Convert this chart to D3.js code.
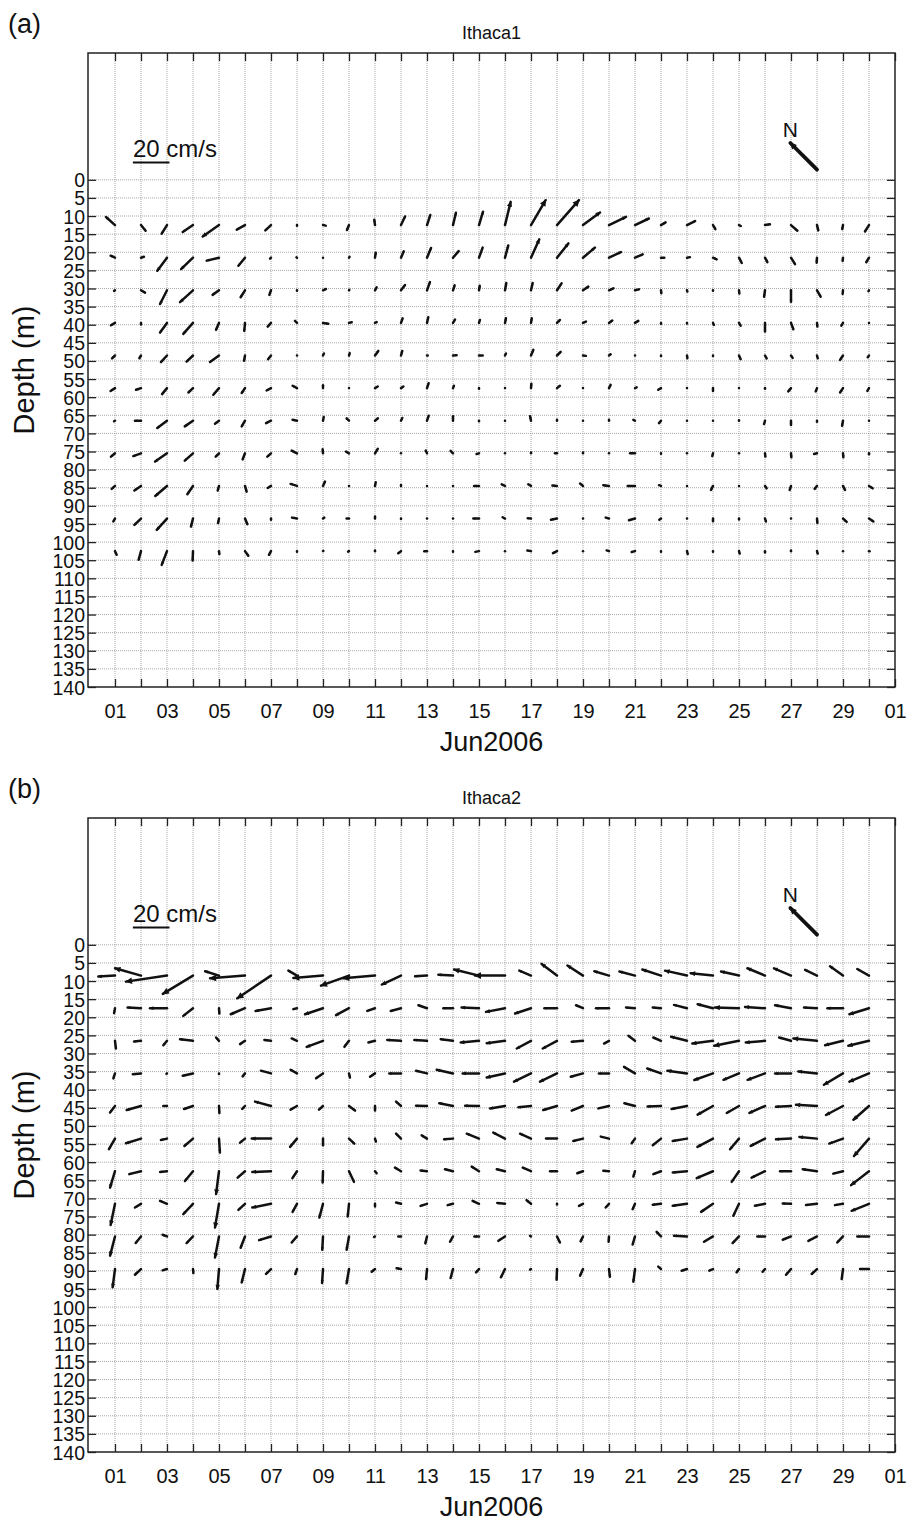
<!DOCTYPE html>
<html>
<head>
<meta charset="utf-8">
<script src="https://cdn.jsdelivr.net/npm/d3@7"></script>
<style>
  body { margin: 0; background: #fff; }
  text { font-family: "Liberation Sans", Arial, Helvetica, sans-serif; fill: #111; }
</style>
</head>
<body>
<svg id="fig" width="907" height="1523"></svg>
<script>
// Daily-mean current vectors (cm/s, rotated frame) at two moorings, June 2006.
const days = d3.range(1, 31);                       // Jun 01 .. Jun 30
const depthTicks = d3.range(0, 141, 5);             // depth axis labels (m)
const depthsA = [12.5, 21.5, 30.5, 39.5, 48.5, 57.5, 66.5, 75.5, 84.5, 93.5, 102.5];
const depthsB = [8.5, 17.5, 26.5, 35.5, 44.5, 53.5, 62.5, 71.5, 80.5, 89.5];
const panelTitles = ["Ithaca1", "Ithaca2"];
const panelLetters = ["(a)", "(b)"];
const scaleSpeed = 20;          // cm/s, reference bar
const northTurn = -45;          // degrees, direction of true north in the plotted frame
const northLength = 20.6;       // cm/s-equivalent length of the north marker

// Ithaca1: east (u) and north (v) components, one row per depth bin
const uA = [
  [-4.9, 2.5, -2.9, -5.6, -8.9, -4.5, -3.1, 0, 1.5, -1.1, -0.4, 2.2, 1.8, 1.6, 2.2, 3.1, 8, 12, 9.3, 9.3, 7.6, 2.5, 4.4, 1.3, 1, 2.7, 3.5, 0.7, -0.4, -2.2],
  [-2.4, 1.6, -5.3, -6.5, -6.7, -3.6, -0.5, -0.3, 0, 0.3, 0.4, 1.5, 2.2, 3.1, 2, 1.8, 4.5, 6.2, 6.5, 6.5, 4.2, 1.8, 1.6, 2, 1.5, 1.3, 2.2, -0.2, -0.2, -1.5],
  [-0.5, 2.2, -3.8, -7.1, -3.5, -2.4, -0.9, 0, 1.6, 0.2, 0.9, 2.2, 1.6, 0.9, 0.4, 0.7, 0.9, 2.5, 2.9, 2.4, 2.2, 0.2, 0.2, 0, 0.2, -0.5, 0, 2, -0.2, -0.3],
  [-2.2, 0, -3.8, -5.3, -1.6, -0.4, -1.8, -1.1, 2.9, 1.5, 0.9, 0.9, 0.7, 1.1, 0.5, 0.5, 0.4, 1.6, 1.6, 1.8, 1.8, 0, 0, 0.5, 0.9, 0, 1.3, 0.2, -0.9, 0],
  [-1.6, -0.9, -3.3, -3.5, -4.9, -0.5, -1.6, 0, 0.5, 0.4, 1.8, 0.7, 0.4, 2, 2, 0.5, 1.3, 2, 1.6, 0.9, 0, 0, 0.2, 0, 0.9, 0.9, 0.9, 0.4, -1.6, -0.7],
  [-2.4, -2.7, -2.7, -2.5, -3.1, -1.8, -2.4, -2.4, 0, 0, 1.5, 1.3, 0.9, 0.5, 0, 0, 0.2, 1.6, 0, 0.9, 0.9, -1.5, 0, 0, 0, 0, -1.5, -0.7, -1.6, -0.9],
  [-0.5, -3.3, -5.3, -4.5, -2.2, -1.8, -2.7, -2.4, 0.4, -1.3, 1.6, 0.7, 0.9, 0, 0, 0, -0.5, 0, 0, 0, -0.9, -1.1, 0, 0, 0, -0.5, 0, 0, -0.5, 0],
  [-2.2, -4.2, -6.5, -4.5, -1.8, -1.3, -2, -2.9, -0.2, -1.6, 1.5, 0, -0.7, -1.3, -1.3, 0, 0, -1.1, 0, 0, -2.7, 0, 0, -0.4, 0, 0.2, 0.2, -1.6, 0.2, 0],
  [-1.8, -3.6, -6.4, -3.1, -0.7, 0.9, -1.8, -3.5, 1.1, 0, 0.4, 0, 0, 0, -2.7, -1.8, -1.5, -2.5, -1.6, -3.1, -4, -1.1, 0, -1.1, 0, 0.9, -0.7, -1.3, 1.1, 2],
  [-0.9, -3.6, -5.6, -1.1, -0.5, 1.3, 0, -2.7, 0.7, -1.3, 0, 0, 0, 0, -3.1, -1.3, -1.8, -3.3, 0, -1.8, -3.3, -0.9, 0, 0, 0, 0.5, 0, 0.2, 2, 2.4],
  [0.9, -1.3, -2.9, -0.2, 0.2, 1.8, -1.1, 0, 0.2, -0.5, 0, -1.5, -1.5, 0, -2, 0, -2, -2.2, 0, -1.3, -1.8, 0, 0.4, 0, 0.4, 0, 0, 0.4, 0, 0.3]
];
const vA = [
  [4.4, -3.1, -4.7, -3.8, -6.2, -2.5, -2.9, -0.3, -0.3, -2.7, 2.9, 4.7, 5.5, 6.7, 7.3, 12.7, 13.6, 13.6, 6.9, 4.5, 3.6, 1.5, 2.2, -2.2, -0.5, 0.4, -3.1, -2.9, -2.2, -3.5],
  [1.1, 0.5, -7.1, -6.2, -1.6, -4.4, -0.5, 0.2, 0, 0.5, 2.7, 3.5, 5.3, 3.6, 5.5, 6.7, 10, 7.8, 5.5, 3.1, 1.8, 0, 0.3, -0.9, -2.9, -2.4, -3.5, -2.7, -1.8, -2.5],
  [-0.3, -1.3, -7.5, -6.5, -2.5, -3.8, -2.5, -0.3, 0.7, 0.2, 1.6, 2.9, 4.5, 2.7, 2.5, 4, 4, 3.8, 2, 1.1, 0.5, -1.6, -0.7, -0.3, -1.8, -3.5, -6.2, -3.5, -2, -0.5],
  [-1.3, -0.9, -5.3, -6, -3.8, -4.4, -2, 1.1, -0.5, 0.4, 0.4, 2.5, 3.1, 1.8, 1.6, 2.5, 2.5, 1.6, 0.7, 1.3, 1.1, -0.5, -0.3, -1.1, -1.5, -4.7, -3.5, -2, -1.5, 0],
  [-1.6, -1.5, -3.6, -3.3, -3.5, -2.9, -2, 0, 1.1, 1.3, 2.5, 2.5, 0, 0.2, 0, 1.1, 3.1, 2, -0.2, 0.7, 0, -0.3, -1.5, -0.3, -2, -1.6, -1.3, -1.5, -2.4, -0.9],
  [-1.6, -0.9, -3.3, -2.4, -3.6, -2.7, -1.3, 1.3, 1.6, 0, 0.9, 0.9, 2.7, 1.3, -0.3, 0, 2.4, 1.3, 0, 1.8, 0.4, -0.9, 0, -1.6, 0, -0.3, -1.8, -1.8, -2.4, -1.5],
  [-0.3, 0, -4, -3.1, -1.6, -3.1, -1.3, 0.5, 2, 1.3, 1.3, 1.5, 2.7, 2.4, -0.3, 0, 2.4, 0.5, 0, 0.5, 0.5, -1.3, 0, 0, 0.3, -1.8, -2.4, -0.5, -2.7, 0],
  [-1.8, -1.5, -4.5, -4, -1.8, -3.3, -1.8, 1.5, 2.2, 0.9, 2.4, 0, 1.5, 1.3, -0.4, 0, 0.5, 0, 0.5, 0, 0, -0.3, 0, -1.5, 0, -1.8, -2.2, -0.4, -2.2, -0.5],
  [-1.6, -2.5, -5.5, -4.5, -2.5, -3.1, -1.1, 1.1, 2.4, 0, 2, 0.5, 0, 0, 0, 0.9, 0.9, 0.2, 1.3, 0.4, 0, 0.4, 0, -2.2, 0, -1.3, -2.2, -1.6, -2.2, -1.3],
  [-1.6, -3.5, -6.2, -4.4, -2.5, -3.1, -0.7, 0.5, 0.5, 0, 1.1, -0.3, 0, 0, 0, 0.7, 0.2, -0.7, 0, 0.5, -0.9, -0.7, 0, -1.5, -0.5, -1.6, 0, -2.4, -1.8, -1.6],
  [-2, -4.7, -7.5, -5.1, -1.6, -2.5, -2, -0.3, 0.2, -0.3, 0.3, -1.1, 0, -0.3, -0.4, 0, 0.4, -1.1, 0, 0.4, -0.5, -0.3, -1.6, -0.3, -1.3, -0.7, 0.3, -1.3, 0, 0]
];

// Ithaca2
const uB = [
  [-9.1, -14.2, -22.4, -16.5, -7.6, -19.1, -18.4, -4.7, -16.2, -15.3, -17.3, -10.5, -6.5, -8, -13.6, -16.4, -6.4, -8.4, -8.5, -8, -8.5, -10.2, -12, -12.2, -9.8, -9.6, -9.3, -6.5, -7.1, -6.4],
  [-0.5, -7.3, -9.3, -5.3, 0.2, -7.8, -8.4, -2, -9.8, -7.1, -4.2, -5.6, -4.7, -5.3, -9.5, -10.4, -8.7, -6.9, -3.8, -7.1, -4.9, -4.5, -7.1, -8.4, -13.1, -10.9, -8.7, -7.1, -8.5, -10.7],
  [0.5, -3.8, -2, -7.1, -1.6, -2.7, -3.6, -2.9, -8.9, -2.5, -3.6, -7.5, -6.9, -6.7, -10, -10, -7.8, -7.8, -6.2, -2.7, -3.6, -4.2, -8.7, -11.3, -13.5, -10.5, -6.5, -12.9, -9.8, -11.3],
  [-0.9, -4.5, -0.3, -5.6, 0, -1.3, -5.5, -3.5, -3.8, 0.5, -2.7, -6.4, -6, -8.9, -8.9, -10, -9.3, -9.3, -6.7, -5.5, -6, -7.5, -10.7, -10.2, -8.5, -9.5, -8.7, -10.2, -10.4, -10.7],
  [-2.7, -7.8, -2, -4.9, 0.2, -1.5, -8.7, -3.5, -2.2, 3.3, 0, -2.7, -6, -7.5, -7.6, -8.2, -6.9, -7.5, -6.2, -5.8, -5.8, -7.3, -8.4, -8.4, -6.7, -8.5, -8.2, -11.5, -9.3, -8.5],
  [-3.3, -8.2, -3.3, -4.7, 0.5, -2.7, -10.5, -3.8, 0, 2.9, 0.5, -2.7, -2.9, -4.9, -6.7, -6.4, -6, -6, -5.3, -4.5, -1.8, -4.5, -7.8, -8.5, -4.9, -7.8, -8.2, -9.6, -7.5, -8.2],
  [-2.7, -6.4, -3.8, -4.4, -1.6, -4, -10.2, -2.5, -0.2, 2.7, 0.9, -3.3, -3.5, -4.4, -4, -4.5, -4.5, -3.8, -3.1, -3.1, -0.9, -4.2, -7.8, -8.9, -4, -7.3, -6, -7.8, -5.3, -9.8],
  [-2.4, -3.3, -3.8, -5.3, -2.2, -3.6, -10.2, -2.4, -2, -0.7, 0, -2.7, -3.5, -2.9, -3.5, -4.2, -2.4, 0, -2.2, -1.8, -1.3, -4.5, -7.8, -6.5, -3.1, -5.5, -4.5, -6, -4.4, -9.5],
  [-2.7, -2.9, -2.4, -3.5, -2.2, -2.4, -6.5, -2.9, -0.4, -1.3, -0.5, -1.5, -0.9, -1.6, -2.5, -3.6, -0.5, 1.6, -1.3, -0.2, -1.3, -2.4, -7.1, -4.9, -3.5, -4.2, -4.5, -4.7, -3.1, -6.4],
  [-1.3, -3.3, -2.4, 0.2, -0.9, -1.8, -2.7, -0.9, -0.5, -1.3, -1.8, -2.4, -0.5, -1.3, -1.6, -2.2, -0.5, -0.2, -1.6, 0.5, -0.9, -1.5, -2.9, -2, -1.3, -1.3, -2.7, -2.9, -0.7, -4.9]
];
const vB = [
  [-0.5, 4, -3.3, -10, 2.4, -1.5, -12.4, 2.7, -1.3, -5.5, -1.5, -4.9, -0.4, 0.5, 3.3, 0, 2.7, 6.4, 5.5, 2.4, 2.2, 3.3, 2.7, 1.3, 2.2, 4, 4, 3.1, 5.1, 3.6],
  [-2.7, 0.4, 0, -4.2, -2.9, -3.3, -1.5, -0.5, -3.3, -3.8, -1.5, -1.5, 1.6, 0, 0.4, -2, -2.9, 0, 1.6, 0, 0.4, 0.4, 1.8, 2.2, 0.4, 0.7, 1.6, 0.4, 0, -3.3],
  [-4.2, -0.4, -2.4, 0.9, 1.8, -1.8, 0.5, 1.3, -3.3, -3.3, -0.9, 0.5, 0.4, 0.9, -0.9, -1.3, -4.2, -4.2, -0.5, -1.5, 2.7, 1.8, 2.2, -1.5, -2.7, -0.9, 1.8, 1.3, -2.4, -2.7],
  [-2.7, -0.4, -0.3, -1.3, -0.3, -1.6, 1.5, 2, -2.7, -2.2, -1.8, 0, 1.5, 2, 0, -2.2, -4.5, -4.5, -1.8, 0, 3.6, 2.7, 1.5, -3.6, -3.5, -3.5, 0, 1.1, -6.2, -4.5],
  [-3.5, -2.2, 0, -1.6, -3.8, -1.6, 2.4, -2, -2, -2.5, -2.5, 2.4, 0.2, 1.5, 0.2, -1.3, -0.7, -2.2, -2.5, -1.3, 1.5, -0.2, -1.6, -4.7, -3.8, -3.8, -0.4, 0.7, -4.9, -7.5],
  [-5.8, -2.5, -0.7, -4, -7.6, -2.2, 0, -4.5, -3.6, -2.7, -1.6, 2.7, 1.8, -0.4, 2.7, 3.3, 2.7, 0, -1.3, 1.1, -2.5, -3.6, -1.3, -4.5, -5.8, -4, -0.4, 0.9, -2.7, -9.5],
  [-8.9, -1.6, -0.4, -5.3, -12.5, -3.5, -0.4, -3.8, -6.2, -5.8, -1.1, 2, 0.4, 1.1, 2.5, 1.1, 2, 0, -1.1, 0.2, -2.9, -1.6, -0.7, -3.8, -5.8, -3.5, 0, 1.1, -1.3, -7.6],
  [-11.6, -2, 1.6, -5.6, -12.9, -3.3, -2, -4.4, -7.5, -6.9, -1.5, 0.7, -1.1, -0.7, 1.6, 0.5, 2, -0.3, -1.1, -2, -2.9, -0.5, -1.1, -4.4, -6.5, -1.1, 0.2, -0.7, -0.7, -3.8],
  [-10.5, -3.6, 0.9, -3.6, -11.5, -6.2, -2, -3.3, -7.3, -7.3, -0.3, 0, -3.8, -2.9, 0, -2.4, 0.3, -3.3, -2.7, -2.9, -4.4, 2.5, 0.4, -2.9, -3.6, 0, -1.8, -2.4, -3.3, 0],
  [-10, -3.1, -0.7, -2.2, -10.9, -7.3, -2.7, -2.7, -7.6, -7.8, -1.5, 0.4, -5.5, -4.9, -1.8, -4.5, -0.3, -5.8, -3.6, -4.2, -6.9, 1.3, -0.9, -0.9, -1.8, -1.5, -3.1, -2.7, -5.5, 0]
];

const svg = d3.select("#fig");
const frameLeft = 88, frameRight = 895, frameH = 634;
const panelTops = [53, 818];
const dayDate = d => new Date(Date.UTC(2006, 5, d));

const x = d3.scaleUtc()
  .domain([new Date(Date.UTC(2006, 4, 31)), new Date(Date.UTC(2006, 6, 1))])
  .range([frameLeft + 1, frameRight]);
// pixel length of a vector of given speed; same scale in both directions
const speed = d3.scaleLinear().domain([0, scaleSpeed]).range([0, 36.6]);

function arrow(g, x0, y0, dx, dy, width) {
  const x1 = x0 + dx, y1 = y0 + dy;
  const L = Math.hypot(dx, dy);
  g.append("line")
    .attr("x1", x0).attr("y1", y0).attr("x2", x1).attr("y2", y1)
    .attr("stroke", "#111").attr("stroke-width", width)
    .attr("stroke-linecap", "round");
  if (L > 4) {
    const h = Math.min(6, Math.max(2.2, L * 0.2));
    const w = h * 0.55;
    const ux = dx / L, uy = dy / L;
    const bx = x1 - ux * h, by = y1 - uy * h;
    g.append("path")
      .attr("d", `M${x1 + ux},${y1 + uy}L${bx - uy * w},${by + ux * w}L${bx + uy * w},${by - ux * w}Z`)
      .attr("fill", "#111");
  }
}

function drawPanel(k, depths, U, V) {
  const top = panelTops[k];
  const y = d3.scaleLinear().domain([-35, 140]).range([top, top + frameH]);
  const g = svg.append("g");

  // grid: every day and every 5 m
  const gridDays = d3.utcDay.range(dayDate(1), dayDate(31));
  g.append("g").selectAll("line").data(gridDays).join("line")
    .attr("x1", d => x(d)).attr("x2", d => x(d))
    .attr("y1", top).attr("y2", top + frameH)
    .attr("stroke", "#a8a8a8").attr("stroke-width", 1).attr("stroke-dasharray", "1,1");
  g.append("g").selectAll("line").data(depthTicks.filter(d => d < 140)).join("line")
    .attr("x1", frameLeft).attr("x2", frameRight)
    .attr("y1", d => y(d)).attr("y2", d => y(d))
    .attr("stroke", "#a8a8a8").attr("stroke-width", 1).attr("stroke-dasharray", "1,1");

  // axes with inward ticks
  const tickDays = d3.utcDay.range(dayDate(1), dayDate(32));
  const fmt = d3.utcFormat("%d");
  const bottom = g.append("g").attr("transform", `translate(0,${top + frameH})`)
    .call(d3.axisBottom(x).tickValues(tickDays).tickSize(-8).tickPadding(17)
      .tickFormat(d => d.getUTCDate() % 2 === 1 ? fmt(d) : ""));
  const topAx = g.append("g").attr("transform", `translate(0,${top})`)
    .call(d3.axisTop(x).tickValues(tickDays).tickSize(-8).tickFormat(""));
  const left = g.append("g").attr("transform", `translate(${frameLeft},0)`)
    .call(d3.axisLeft(y).tickValues(depthTicks).tickSize(-8).tickPadding(3));
  const right = g.append("g").attr("transform", `translate(${frameRight},0)`)
    .call(d3.axisRight(y).tickValues(depthTicks).tickSize(-8).tickFormat(""));
  [bottom, topAx, left, right].forEach(a => {
    a.select(".domain").remove();
    a.selectAll(".tick line").attr("stroke", "#222").attr("stroke-width", 1.3);
  });
  bottom.selectAll("text").attr("font-size", 20).attr("fill", "#111");
  left.selectAll("text").attr("font-size", 19.5).attr("fill", "#111").attr("dy", "0.36em");

  // frame
  g.append("rect").attr("x", frameLeft).attr("y", top)
    .attr("width", frameRight - frameLeft).attr("height", frameH)
    .attr("fill", "none").attr("stroke", "#222").attr("stroke-width", 1.5);

  // labels
  g.append("text").attr("x", (frameLeft + frameRight) / 2).attr("y", top - 14)
    .attr("text-anchor", "middle").attr("font-size", 18).text(panelTitles[k]);
  g.append("text").attr("x", 8).attr("y", top - 20)
    .attr("font-size", 27).text(panelLetters[k]);
  g.append("text").attr("x", (frameLeft + frameRight) / 2).attr("y", top + frameH + 64)
    .attr("text-anchor", "middle").attr("font-size", 27).text("Jun2006");
  g.append("text")
    .attr("transform", `translate(34,${top + frameH / 2}) rotate(-90)`)
    .attr("text-anchor", "middle").attr("font-size", 29).text("Depth (m)");

  // speed reference bar
  const sx = x(new Date(Date.UTC(2006, 5, 1, 16, 30)));
  const sy = y(-4.8);
  g.append("line").attr("x1", sx).attr("x2", sx + speed(scaleSpeed))
    .attr("y1", sy).attr("y2", sy).attr("stroke", "#111").attr("stroke-width", 2);
  g.append("text").attr("x", sx).attr("y", sy - 5.5).attr("font-size", 24)
    .text(`${scaleSpeed} cm/s`);

  // north marker
  const nx = x(dayDate(28)), ny = y(-2.8);
  const a = northTurn * Math.PI / 180;
  const ndx = speed(northLength) * Math.sin(a), ndy = -speed(northLength) * Math.cos(a);
  arrow(g, nx, ny, ndx, ndy, 3.8);
  g.append("text").attr("x", nx + ndx).attr("y", ny + ndy - 6)
    .attr("text-anchor", "middle").attr("font-size", 21).text("N");

  // current vectors
  const vg = g.append("g");
  depths.forEach((dep, i) => {
    days.forEach((day, j) => {
      const u = U[i][j], v = V[i][j];
      const L = speed(Math.hypot(u, v));
      const ang = Math.atan2(v, u);
      arrow(vg, x(dayDate(day)), y(dep), L * Math.cos(ang), -L * Math.sin(ang), 2.5);
    });
  });
}

drawPanel(0, depthsA, uA, vA);
drawPanel(1, depthsB, uB, vB);
</script>
</body>
</html>
